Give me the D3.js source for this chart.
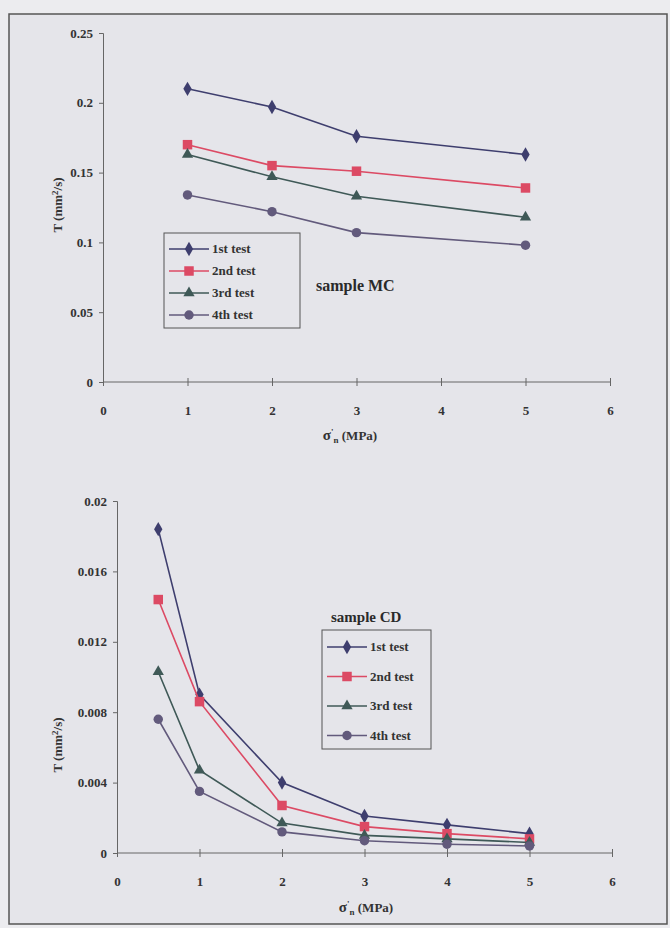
<!DOCTYPE html>
<html>
<head>
<meta charset="utf-8">
<script src="https://cdn.jsdelivr.net/npm/d3@7"></script>
<style>
    html, body { margin: 0; padding: 0; background: #ececef; }
    svg { display: block; }
</style>
</head>
<body>
<svg id="chart"></svg>
<script>

// ---- data ----
const testNames = ["1st test", "2nd test", "3rd test", "4th test"];

// sample MC
const mcStress = [1, 2, 3, 5];
const mcTest1 = [0.210, 0.197, 0.176, 0.163];
const mcTest2 = [0.170, 0.155, 0.151, 0.139];
const mcTest3 = [0.163, 0.147, 0.133, 0.118];
const mcTest4 = [0.134, 0.122, 0.107, 0.098];
const mcYTicks = [0, 0.05, 0.1, 0.15, 0.2, 0.25];
const mcYLabels = ["0", "0.05", "0.1", "0.15", "0.2", "0.25"];

// sample CD
const cdStress = [0.5, 1, 2, 3, 4, 5];
const cdTest1 = [0.0184, 0.0090, 0.0040, 0.0021, 0.0016, 0.0011];
const cdTest2 = [0.0144, 0.0086, 0.0027, 0.0015, 0.0011, 0.0008];
const cdTest3 = [0.0103, 0.0047, 0.0017, 0.0010, 0.0008, 0.0006];
const cdTest4 = [0.0076, 0.0035, 0.0012, 0.0007, 0.0005, 0.0004];
const cdYTicks = [0, 0.004, 0.008, 0.012, 0.016, 0.02];
const cdYLabels = ["0", "0.004", "0.008", "0.012", "0.016", "0.02"];

const xTicks = [0, 1, 2, 3, 4, 5, 6];
const xLabels = ["0", "1", "2", "3", "4", "5", "6"];


const width = 670,
    height = 928;

const seriesColors = ["#3e3e6e", "#dc4a64", "#3f5957", "#625a7c"];
const seriesSymbols = [d3.symbolDiamond, d3.symbolSquare, d3.symbolTriangle, d3.symbolCircle];
const symbolSizes = [60, 90, 55, 70];
const serif = "'Liberation Serif', 'DejaVu Serif', serif";

const svg = d3.select("#chart")
    .attr("width", width)
    .attr("height", height);

svg.append("rect")
    .attr("x", 9)
    .attr("y", 14)
    .attr("width", 658)
    .attr("height", 910)
    .attr("fill", "#e5e5ea")
    .attr("stroke", "#555")
    .attr("stroke-width", 1.5);


const styleText = function (sel) {
    sel.attr("font-family", serif)
        .attr("font-weight", "bold")
        .attr("font-size", 13)
        .attr("fill", "#333");
};


const drawPanel = function (opt) {

    const x = d3.scaleLinear()
        .domain([0, 6])
        .range(opt.xRange);

    const y = d3.scaleLinear()
        .domain([0, opt.yMax])
        .range(opt.yRange);

    const g = svg.append("g");

    // y axis, ticks pointing out
    const yAxis = d3.axisLeft(y)
        .tickValues(opt.yTicks)
        .tickFormat(function (d, i) { return opt.yLabels[i]; })
        .tickSize(4)
        .tickPadding(6);

    g.append("g")
        .attr("transform", "translate(" + x(0) + ",0)")
        .call(yAxis)
        .call(function (a) {
            a.select(".domain").attr("stroke", "#666");
            a.selectAll(".tick line").attr("stroke", "#666");
            a.selectAll("text").call(styleText);
        });

    // x axis, little cross ticks, labels a bit lower
    const xAxis = d3.axisBottom(x)
        .tickValues(xTicks)
        .tickFormat(function (d, i) { return xLabels[i]; })
        .tickSize(4)
        .tickPadding(20);

    g.append("g")
        .attr("transform", "translate(0," + y(0) + ")")
        .call(xAxis)
        .call(function (a) {
            a.select(".domain").attr("stroke", "#666").attr("d", "M" + x(0) + ",0H" + x(6));
            a.selectAll(".tick line").attr("stroke", "#666").attr("y1", -4);
            a.selectAll("text").call(styleText);
        });

    // axis titles
    g.append("text")
        .attr("transform", "translate(" + opt.yTitle[0] + "," + opt.yTitle[1] + ") rotate(-90)")
        .attr("text-anchor", "middle")
        .call(styleText)
        .call(function (t) {
            t.append("tspan").text("T (mm");
            t.append("tspan").attr("dy", -4).attr("font-size", 9).text("2");
            t.append("tspan").attr("dy", 4).text("/s)");
        });

    g.append("text")
        .attr("x", opt.xTitle[0])
        .attr("y", opt.xTitle[1])
        .attr("text-anchor", "middle")
        .call(styleText)
        .call(function (t) {
            t.append("tspan").attr("font-size", 15).text("σ");
            t.append("tspan").attr("dy", -5).attr("font-size", 9).text("'");
            t.append("tspan").attr("dy", 8).attr("font-size", 9).text("n");
            t.append("tspan").attr("dy", -3).text(" (MPa)");
        });

    // series
    const line = d3.line()
        .x(function (d) { return x(d[0]); })
        .y(function (d) { return y(d[1]); });

    opt.series.forEach(function (values, i) {
        const pts = opt.stress.map(function (s, j) { return [s, values[j]]; });

        g.append("path")
            .datum(pts)
            .attr("d", line)
            .attr("fill", "none")
            .attr("stroke", seriesColors[i])
            .attr("stroke-width", 1.6);

        g.selectAll(".m" + i)
            .data(pts)
            .enter()
            .append("path")
                .attr("transform", function (d) { return "translate(" + x(d[0]) + "," + y(d[1]) + ")"; })
                .attr("d", d3.symbol().type(seriesSymbols[i]).size(symbolSizes[i]))
                .attr("fill", seriesColors[i]);
    });

    // legend
    const lg = g.append("g")
        .attr("transform", "translate(" + opt.legend[0] + "," + opt.legend[1] + ")");

    lg.append("rect")
        .attr("width", opt.legend[2])
        .attr("height", opt.legend[3])
        .attr("fill", "none")
        .attr("stroke", "#555")
        .attr("stroke-width", 1);

    testNames.forEach(function (name, i) {
        const row = lg.append("g")
            .attr("transform", "translate(0," + (opt.legendTop + i * opt.legendStep) + ")");

        row.append("line")
            .attr("x1", 5)
            .attr("x2", 45)
            .attr("stroke", seriesColors[i])
            .attr("stroke-width", 1.6);

        row.append("path")
            .attr("transform", "translate(25,0)")
            .attr("d", d3.symbol().type(seriesSymbols[i]).size(symbolSizes[i]))
            .attr("fill", seriesColors[i]);

        row.append("text")
            .attr("x", 48)
            .attr("y", 4)
            .call(styleText)
            .attr("font-size", 13)
            .text(name);
    });

    g.append("text")
        .attr("x", opt.sample[0])
        .attr("y", opt.sample[1])
        .call(styleText)
        .attr("font-size", opt.sample[3])
        .attr("fill", "#2a2a2a")
        .text(opt.sample[2]);
};


drawPanel({
    xRange: [103, 610],
    yRange: [382, 33],
    yMax: 0.25,
    yTicks: mcYTicks,
    yLabels: mcYLabels,
    stress: mcStress,
    series: [mcTest1, mcTest2, mcTest3, mcTest4],
    yTitle: [62, 205],
    xTitle: [350, 440],
    legend: [164, 233, 136, 95],
    legendTop: 16,
    legendStep: 22,
    sample: [316, 291, "sample MC", 16]
});

drawPanel({
    xRange: [117, 612],
    yRange: [853, 501],
    yMax: 0.02,
    yTicks: cdYTicks,
    yLabels: cdYLabels,
    stress: cdStress,
    series: [cdTest1, cdTest2, cdTest3, cdTest4],
    yTitle: [62, 745],
    xTitle: [366, 912],
    legend: [322, 630, 109, 119],
    legendTop: 17,
    legendStep: 29.5,
    sample: [331, 622, "sample CD", 15]
});

</script>
</body>
</html>
